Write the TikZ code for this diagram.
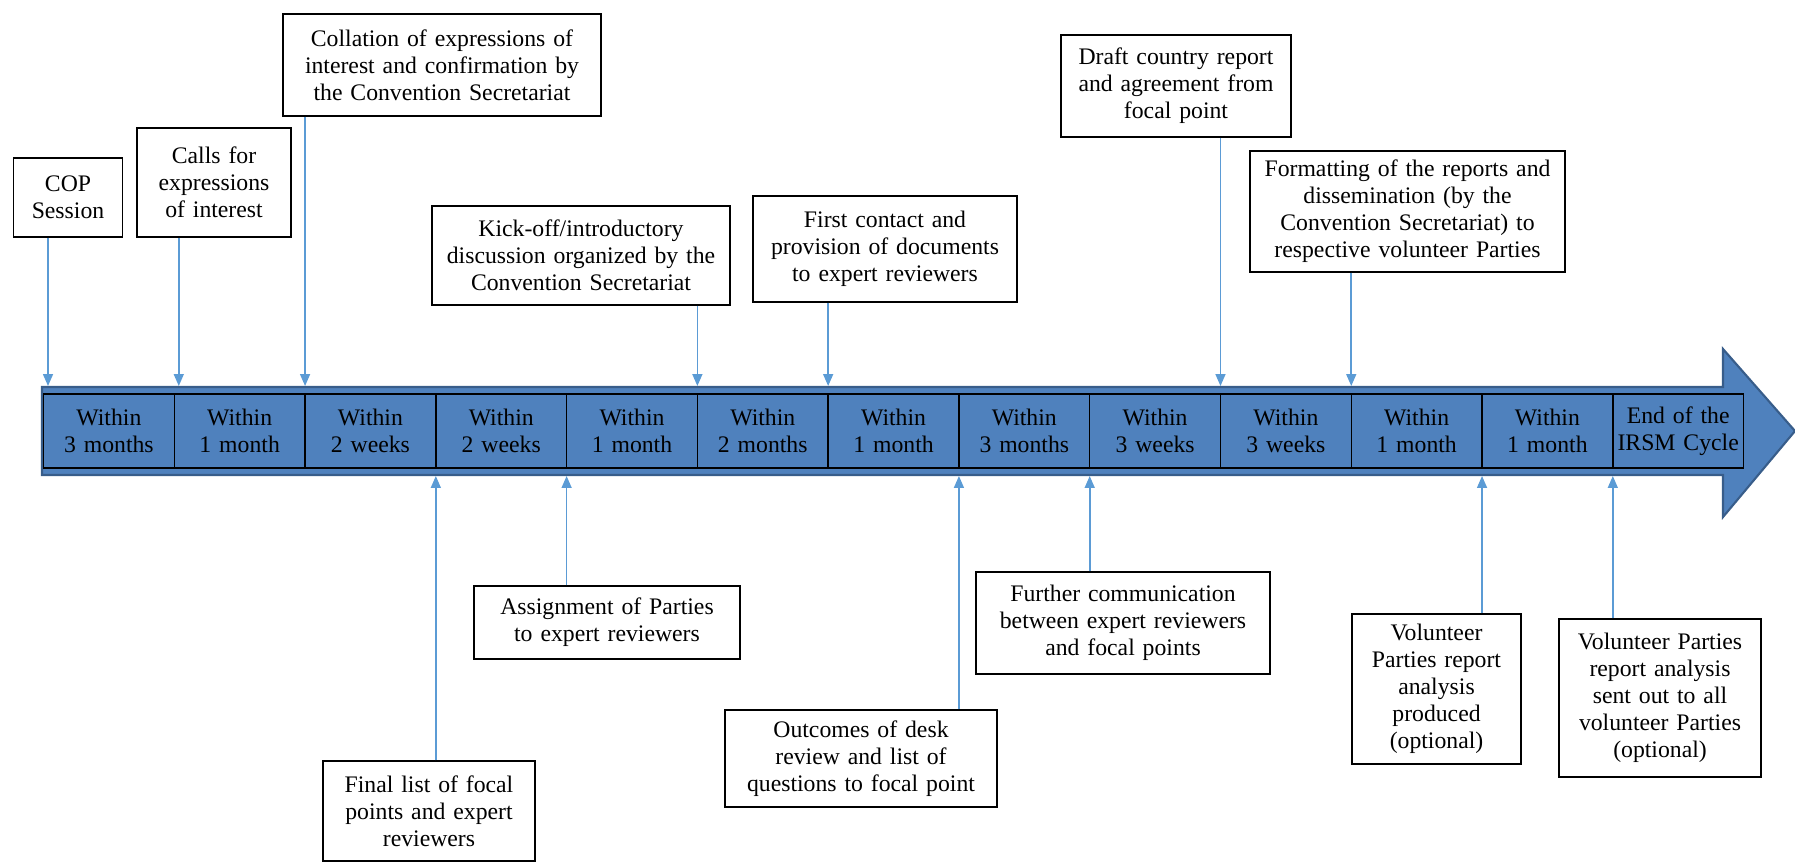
\documentclass[tikz,border=0pt]{standalone}
\usepackage{fontspec}
\setmainfont{Liberation Serif}
\usepackage{tikz}
\usetikzlibrary{arrows.meta, positioning}
\definecolor{colorBar}{RGB}{79,129,189}
\definecolor{colorBarEdge}{RGB}{56,93,138}
\definecolor{colorLink}{RGB}{91,155,213}
\tikzset{
  box/.style={draw, line width=0.8pt, align=center, inner xsep=0pt, inner ysep=0pt},
  cell/.style={draw, line width=0.8pt, fill=colorBar, align=center, inner sep=0pt, outer sep=0pt,
    minimum width=2.616cm, text width=2.616cm, minimum height=1.48cm},
  link/.style={-{Triangle[length=0.24cm, width=0.2cm]}, colorLink, line width=0.9pt},
}

\begin{document}
\begin{tikzpicture}[x=0.02cm, y=-0.02cm, font=\fontsize{13.5}{15.4}\selectfont]
\useasboundingbox (0,0) rectangle (1795,862);
% timeline arrow
\draw[fill=colorBar, draw=colorBarEdge, line width=1.2pt] (42,387) -- (1723,387) -- (1723,349) -- (1795,431) -- (1723,517) -- (1723,475) -- (42,475) -- cycle;
% periods
\node[cell] (c1) at (108.9,431) {Within\\3 months};
\node[cell, right=0pt of c1] (c2) {Within\\1 month};
\node[cell, right=0pt of c2] (c3) {Within\\2 weeks};
\node[cell, right=0pt of c3] (c4) {Within\\2 weeks};
\node[cell, right=0pt of c4] (c5) {Within\\1 month};
\node[cell, right=0pt of c5] (c6) {Within\\2 months};
\node[cell, right=0pt of c6] (c7) {Within\\1 month};
\node[cell, right=0pt of c7] (c8) {Within\\3 months};
\node[cell, right=0pt of c8] (c9) {Within\\3 weeks};
\node[cell, right=0pt of c9] (c10) {Within\\3 weeks};
\node[cell, right=0pt of c10] (c11) {Within\\1 month};
\node[cell, right=0pt of c11] (c12) {Within\\1 month};
\node[cell, right=0pt of c12] (c13) {End of the\\IRSM Cycle};
% steps above
\node[box, text width=2.18cm, minimum height=1.58cm] (cop) at (68,197.5) {COP\\Session};
\node[box, text width=3.08cm, minimum height=2.18cm] (calls) at (214,182.5) {Calls for\\expressions\\of interest};
\node[box, text width=6.36cm, minimum height=2.04cm] (collation) at (442,65) {Collation of expressions of\\interest and confirmation by\\the Convention Secretariat};
\node[box, text width=5.96cm, minimum height=1.98cm] (kickoff) at (581,255.5) {Kick-off/introductory\\discussion organized by the\\Convention Secretariat};
\node[box, text width=5.28cm, minimum height=2.12cm] (contact) at (885,249) {First contact and\\provision of documents\\to expert reviewers};
\node[box, text width=4.6cm, minimum height=2.04cm] (draft) at (1176,86) {Draft country report\\and agreement from\\focal point};
\node[box, text width=6.3cm, minimum height=2.42cm] (formatting) at (1407.5,211.5) {Formatting of the reports and\\dissemination (by the\\Convention Secretariat) to\\respective volunteer Parties};
% steps below
\node[box, text width=4.24cm, minimum height=2.0cm] (final) at (429,811) {Final list of focal\\points and expert\\reviewers};
\node[box, text width=5.32cm, minimum height=1.46cm] (assignment) at (607,622.5) {Assignment of Parties\\to expert reviewers};
\node[box, text width=5.44cm, minimum height=1.94cm] (outcomes) at (861,758.5) {Outcomes of desk\\review and list of\\questions to focal point};
\node[box, text width=5.88cm, minimum height=2.04cm] (further) at (1123,623) {Further communication\\between expert reviewers\\and focal points};
\node[box, text width=3.38cm, minimum height=3.0cm] (volproduced) at (1436.5,689) {Volunteer\\Parties report\\analysis\\produced\\(optional)};
\node[box, text width=4.04cm, minimum height=3.16cm] (volsent) at (1660,698) {Volunteer Parties\\report analysis\\sent out to all\\volunteer Parties\\(optional)};
% links down to the timeline
\draw[link] ([xshift=0.09cm]cop.south -| c1.north west) -- ([shift={(0.09cm,0.16cm)}]c1.north west);
\draw[link] ([xshift=0.09cm]calls.south -| c1.north east) -- ([shift={(0.09cm,0.16cm)}]c1.north east);
\draw[link] (collation.south -| c2.north east) -- ([yshift=0.16cm]c2.north east);
\draw[link] (kickoff.south -| c5.north east) -- ([yshift=0.16cm]c5.north east);
\draw[link] (contact.south -| c6.north east) -- ([yshift=0.16cm]c6.north east);
\draw[link] (draft.south -| c9.north east) -- ([yshift=0.16cm]c9.north east);
\draw[link] (formatting.south -| c10.north east) -- ([yshift=0.16cm]c10.north east);
% links up to the timeline
\draw[link] (final.north -| c3.south east) -- ([yshift=-0.16cm]c3.south east);
\draw[link] (assignment.north -| c4.south east) -- ([yshift=-0.16cm]c4.south east);
\draw[link] (outcomes.north -| c7.south east) -- ([yshift=-0.16cm]c7.south east);
\draw[link] (further.north -| c8.south east) -- ([yshift=-0.16cm]c8.south east);
\draw[link] (volproduced.north -| c11.south east) -- ([yshift=-0.16cm]c11.south east);
\draw[link] (volsent.north -| c12.south east) -- ([yshift=-0.16cm]c12.south east);
\end{tikzpicture}
\end{document}
